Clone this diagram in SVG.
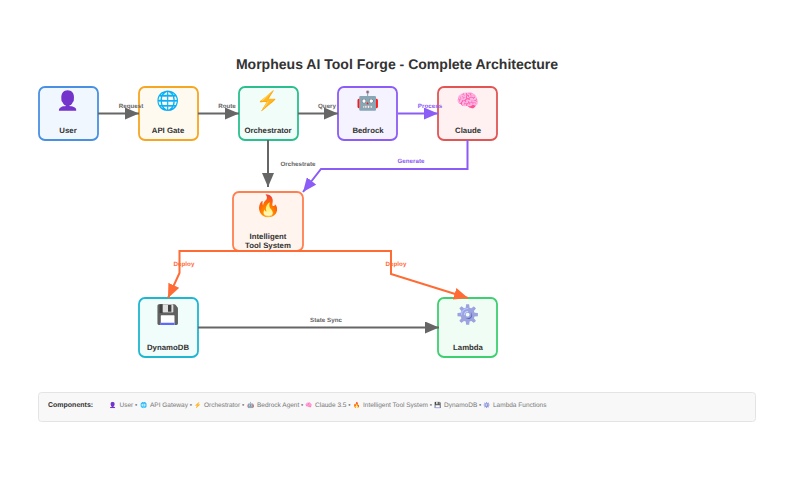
<svg xmlns="http://www.w3.org/2000/svg" width="806" height="488" viewBox="0 0 806 488">
<style>
text{font-family:"Liberation Sans",Arial,"Noto Color Emoji",sans-serif;text-rendering:geometricPrecision}
.n{stroke-width:1.800}
.t{font-size:7.800px;font-weight:700;fill:#333;text-anchor:middle}
.i{font-size:18.700px;text-anchor:middle}
.e{font-size:5.800px;text-anchor:middle}
.k{font-size:6.500px;fill:#777}
.l{font-size:6.240px;font-weight:700;text-anchor:middle}
.c{fill:none;stroke-width:2}
.g{stroke:#666}.p{stroke:#8b5cf6}.o{stroke:#ff6b35}
.f-user{filter:hue-rotate(55deg) brightness(.72) saturate(1.4)}
.f-bolt{filter:hue-rotate(-18deg) saturate(1.2)}
.f-bot{filter:saturate(1.5)}
.f-brain{filter:hue-rotate(-22deg) saturate(1.6) brightness(1.1)}
.f-disk{filter:hue-rotate(45deg) saturate(2.2)}
.f-gear{filter:hue-rotate(45deg) saturate(1.3)}
</style>
<defs>
<marker id="ag" markerUnits="userSpaceOnUse" markerWidth="14" markerHeight="12" refX="14" refY="6" orient="auto"><path d="M0 0L14 6L0 12z" fill="#666"/></marker>
<marker id="ap" markerUnits="userSpaceOnUse" markerWidth="14" markerHeight="12" refX="14" refY="6" orient="auto"><path d="M0 0L14 6L0 12z" fill="#8b5cf6"/></marker>
<marker id="ao" markerUnits="userSpaceOnUse" markerWidth="14" markerHeight="12" refX="14" refY="6" orient="auto"><path d="M0 0L14 6L0 12z" fill="#ff6b35"/></marker>
</defs>
<rect width="806" height="488" fill="#fff"/>
<text x="397" y="69" font-size="14.040" font-weight="700" fill="#333" text-anchor="middle">Morpheus AI Tool Forge - Complete Architecture</text>
<g id="user"><rect class="n" x="39" y="87" width="59" height="53" rx="6" fill="#f0f7ff" stroke="#4a90e2"/><text class="i f-user" x="68" y="107">👤</text><text class="t" x="68" y="133">User</text></g>
<g id="api"><rect class="n" x="139" y="87" width="59" height="53" rx="6" fill="#fffaf0" stroke="#f5a623"/><text class="i" x="168" y="107">🌐</text><text class="t" x="168" y="133">API Gate</text></g>
<g id="orchestrator"><rect class="n" x="239" y="87" width="59" height="53" rx="6" fill="#f0fdf8" stroke="#2bbf8f"/><text class="i f-bolt" x="268" y="107">⚡</text><text class="t" x="268" y="133">Orchestrator</text></g>
<g id="bedrock"><rect class="n" x="338" y="87" width="59" height="53" rx="6" fill="#f5f3ff" stroke="#8b5cf6"/><text class="i f-bot" x="368" y="107">🤖</text><text class="t" x="368" y="133">Bedrock</text></g>
<g id="claude"><rect class="n" x="438" y="87" width="59" height="53" rx="6" fill="#fff1f1" stroke="#e25555"/><text class="i f-brain" x="468" y="107">🧠</text><text class="t" x="468" y="133">Claude</text></g>
<g id="tools"><rect class="n" x="233" y="192" width="70" height="59" rx="6" fill="#fff5ee" stroke="#ff7f50"/><text class="i" x="268" y="213" style="font-size:21px">🔥</text><text class="t" x="268" y="239">Intelligent</text><text class="t" x="268" y="248">Tool System</text></g>
<g id="dynamodb"><rect class="n" x="139" y="298" width="59" height="59" rx="6" fill="#f0fdfa" stroke="#1fb6d0"/><text class="i f-disk" x="168" y="321">💾</text><text class="t" x="168" y="350">DynamoDB</text></g>
<g id="lambda"><rect class="n" x="438" y="298" width="59" height="59" rx="6" fill="#f0fdf4" stroke="#3ecf71"/><text class="i f-gear" x="468" y="321">⚙️</text><text class="t" x="468" y="350">Lambda</text></g>
<g id="connectors">
<path class="c g" marker-end="url(#ag)" d="M98 113.500H139"/>
<path class="c g" marker-end="url(#ag)" d="M198 113.500H239"/>
<path class="c g" marker-end="url(#ag)" d="M298 113.500H338"/>
<path class="c p" marker-end="url(#ap)" d="M398 113.500H438"/>
<path class="c g" marker-end="url(#ag)" d="M268 140V187"/>
<path class="c p" marker-end="url(#ap)" d="M467.500 140V169H321L303 192"/>
<path class="c o" marker-end="url(#ao)" d="M268 251H179.500V273L168 298"/>
<path class="c o" marker-end="url(#ao)" d="M268 251H391V274L468 298"/>
<path class="c g" marker-end="url(#ag)" d="M198 327.500H439"/>
<text class="l" x="131" y="107.500" fill="#666">Request</text>
<text class="l" x="227" y="107.500" fill="#666">Route</text>
<text class="l" x="327" y="107.500" fill="#666">Query</text>
<text class="l" x="430" y="107.500" fill="#8b5cf6">Process</text>
<text class="l" x="298" y="166" fill="#666">Orchestrate</text>
<text class="l" x="411" y="163" fill="#8b5cf6">Generate</text>
<text class="l" x="184" y="266" fill="#ff6b35">Deploy</text>
<text class="l" x="396" y="266" fill="#ff6b35">Deploy</text>
<text class="l" x="326" y="321.500" fill="#666">State Sync</text>
</g>
<g id="legend"><rect x="38.500" y="392.500" width="717" height="29" rx="3" fill="#f8f8f8" stroke="#e4e4e4"/>
<text x="48" y="406.500" font-size="7" font-weight="700" fill="#333">Components:</text>
<text class="e f-user" x="113" y="407">👤</text><text class="k" x="119.500" y="407">User •</text>
<text class="e" x="143.500" y="407">🌐</text><text class="k" x="150" y="407">API Gateway •</text>
<text class="e f-bolt" x="197.500" y="407">⚡</text><text class="k" x="204" y="407">Orchestrator •</text>
<text class="e f-bot" x="250.500" y="407">🤖</text><text class="k" x="257" y="407">Bedrock Agent •</text>
<text class="e f-brain" x="308.500" y="407">🧠</text><text class="k" x="315" y="407">Claude 3.5 •</text>
<text class="e" x="357" y="407">🔥</text><text class="k" x="363" y="407">Intelligent Tool System •</text>
<text class="e f-disk" x="437.500" y="407">💾</text><text class="k" x="444" y="407">DynamoDB •</text>
<text class="e f-gear" x="487" y="407">⚙️</text><text class="k" x="493" y="407">Lambda Functions</text></g>
</svg>
